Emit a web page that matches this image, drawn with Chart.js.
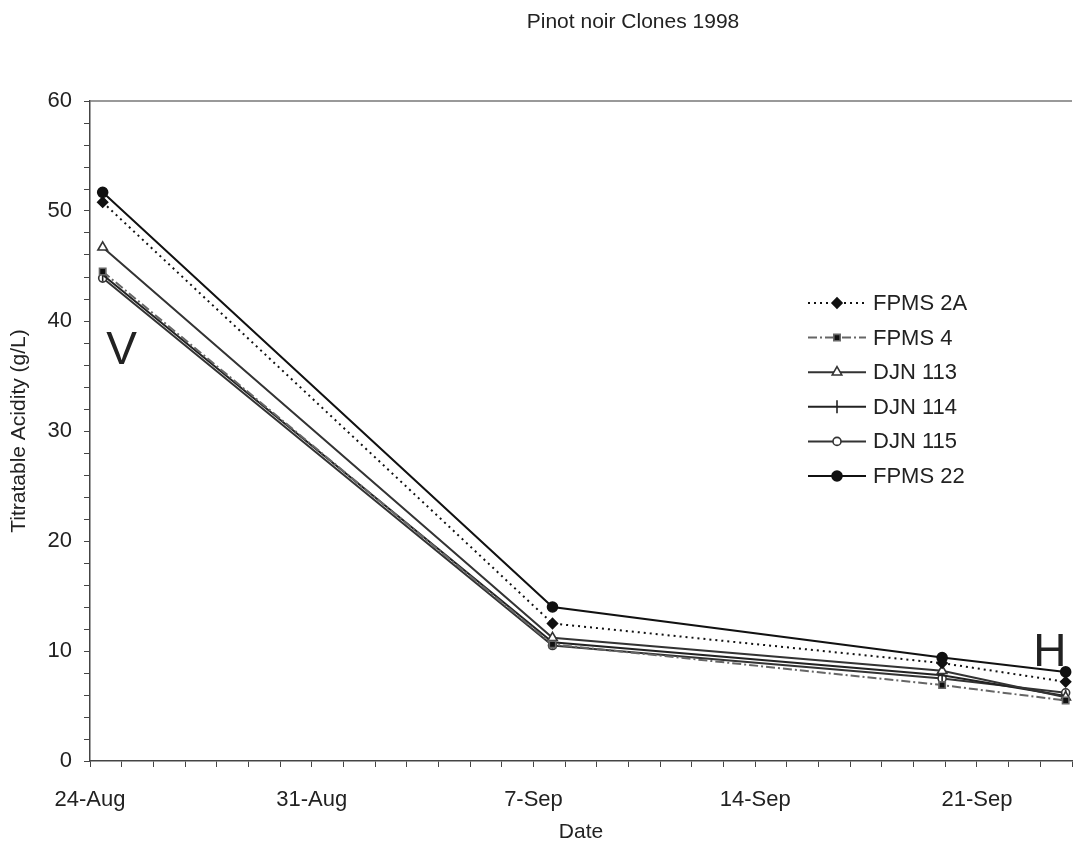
<!DOCTYPE html>
<html>
<head>
<meta charset="utf-8">
<script src="https://cdn.jsdelivr.net/npm/chart.js@4/dist/chart.umd.min.js"></script>
<style>
  html, body { margin: 0; padding: 0; background: #fff; overflow: hidden; }
  #wrap { width: 1074px; height: 843px; position: relative; }
</style>
</head>
<body>
<div id="wrap"><canvas id="chart"></canvas></div>
<script>
// days after 24-Aug for each sampling
const sampleDays = [0.4, 14.6, 26.9, 30.8];
const weekLabels = ["24-Aug", "31-Aug", "7-Sep", "14-Sep", "21-Sep"];

const fpms2A = [50.8, 12.5, 8.9, 7.2];
const fpms4 = [44.5, 10.6, 6.9, 5.5];
const djn113 = [46.7, 11.2, 8.2, 5.8];
const djn114 = [44.2, 10.8, 7.8, 5.9];
const djn115 = [43.9, 10.5, 7.5, 6.2];
const fpms22 = [51.7, 14.0, 9.4, 8.1];

const FONT = 'Arial, "Liberation Sans", sans-serif';

function pts(vals) {
  return vals.map((v, i) => ({ x: sampleDays[i], y: v }));
}

function series(label, vals, color, dash, style, radius, fill, rotation) {
  return {
    label: label,
    data: pts(vals),
    borderColor: color,
    borderWidth: 2,
    borderDash: dash,
    pointStyle: style,
    pointRadius: radius,
    pointRotation: rotation || 0,
    pointBackgroundColor: fill,
    pointBorderColor: color,
    pointBorderWidth: 1.6,
    tension: 0,
    clip: 10
  };
}

// Title, top frame line, V / H marks and the line+marker legend
const extras = {
  id: "extras",
  afterDraw(chart) {
    const ctx = chart.ctx;
    const area = chart.chartArea;
    const xs = chart.scales.x, ys = chart.scales.y;
    ctx.save();

    ctx.strokeStyle = "#777";
    ctx.lineWidth = 1.5;
    ctx.beginPath();
    ctx.moveTo(area.left, area.top);
    ctx.lineTo(area.right, area.top);
    ctx.stroke();

    ctx.fillStyle = "#222";
    ctx.textAlign = "center";
    ctx.textBaseline = "middle";
    ctx.font = "21px " + FONT;
    ctx.fillText("Pinot noir Clones 1998", 633, 22);

    ctx.font = "46px " + FONT;
    ctx.fillText("V", xs.getPixelForValue(1.0), ys.getPixelForValue(37.2));
    ctx.fillText("H", xs.getPixelForValue(30.3), ys.getPixelForValue(9.8));

    // legend
    const lx = 808, lw = 58, ty0 = 303, step = 34.6;
    ctx.textAlign = "left";
    ctx.font = "22px " + FONT;
    chart.data.datasets.forEach((ds, i) => {
      const y = ty0 + i * step;
      ctx.strokeStyle = ds.borderColor;
      ctx.lineWidth = ds.borderWidth;
      ctx.setLineDash(ds.borderDash || []);
      ctx.beginPath();
      ctx.moveTo(lx, y);
      ctx.lineTo(lx + lw, y);
      ctx.stroke();
      ctx.setLineDash([]);
      ctx.fillStyle = ds.pointBackgroundColor;
      ctx.strokeStyle = ds.pointBorderColor;
      ctx.lineWidth = ds.pointBorderWidth;
      Chart.helpers.drawPoint(ctx, {
        pointStyle: ds.pointStyle,
        rotation: ds.pointRotation,
        radius: ds.pointRadius,
        borderWidth: ds.pointBorderWidth
      }, lx + lw / 2, y);
      ctx.fillStyle = "#222";
      ctx.fillText(ds.label, lx + lw + 7, y + 1);
    });
    ctx.restore();
  }
};

new Chart(document.getElementById("chart"), {
  type: "line",
  data: {
    datasets: [
      series("FPMS 2A", fpms2A, "#111", [2, 4], "rectRot", 5, "#111"),
      series("FPMS 4", fpms4, "#666", [9, 3, 2, 3], "rect", 4.5, "#111"),
      series("DJN 113", djn113, "#333", [], "triangle", 5.5, "#fff"),
      series("DJN 114", djn114, "#222", [], "line", 6.5, "#222", 90),
      series("DJN 115", djn115, "#333", [], "circle", 4, "#fff"),
      series("FPMS 22", fpms22, "#111", [], "circle", 5, "#111")
    ]
  },
  options: {
    responsive: true,
    maintainAspectRatio: false,
    animation: false,
    layout: { autoPadding: false, padding: { top: 101, right: 2, left: 0, bottom: 0 } },
    plugins: {
      legend: { display: false },
      title: { display: false },
      tooltip: { enabled: false }
    },
    scales: {
      x: {
        type: "linear",
        min: 0,
        max: 31,
        afterFit(scale) {
          scale.height = 82;
          scale.paddingLeft = 0;
          scale.paddingRight = 0;
        },
        border: { color: "#444", width: 1.5 },
        grid: { drawOnChartArea: false, drawTicks: true, tickLength: 6, color: "#444" },
        ticks: {
          stepSize: 1,
          autoSkip: false,
          maxRotation: 0,
          padding: 20,
          color: "#222",
          font: { family: FONT, size: 22 },
          callback: (v) => (v % 7 === 0 ? weekLabels[v / 7] : "")
        },
        title: {
          display: true,
          text: "Date",
          color: "#222",
          font: { family: FONT, size: 21 },
          padding: { top: 0, bottom: -2 }
        }
      },
      y: {
        min: 0,
        max: 60,
        afterFit(scale) { scale.width = 90; },
        border: { color: "#444", width: 1.5 },
        grid: { drawOnChartArea: false, drawTicks: true, tickLength: 6, color: "#444" },
        ticks: {
          stepSize: 2,
          autoSkip: false,
          padding: 12,
          color: "#222",
          font: { family: FONT, size: 22 },
          callback: (v) => (v % 10 === 0 ? v : "")
        },
        title: {
          display: true,
          text: "Titratable Acidity (g/L)",
          color: "#222",
          font: { family: FONT, size: 21 },
          padding: { top: 7, bottom: 0 }
        }
      }
    }
  },
  plugins: [extras]
});
</script>
</body>
</html>
